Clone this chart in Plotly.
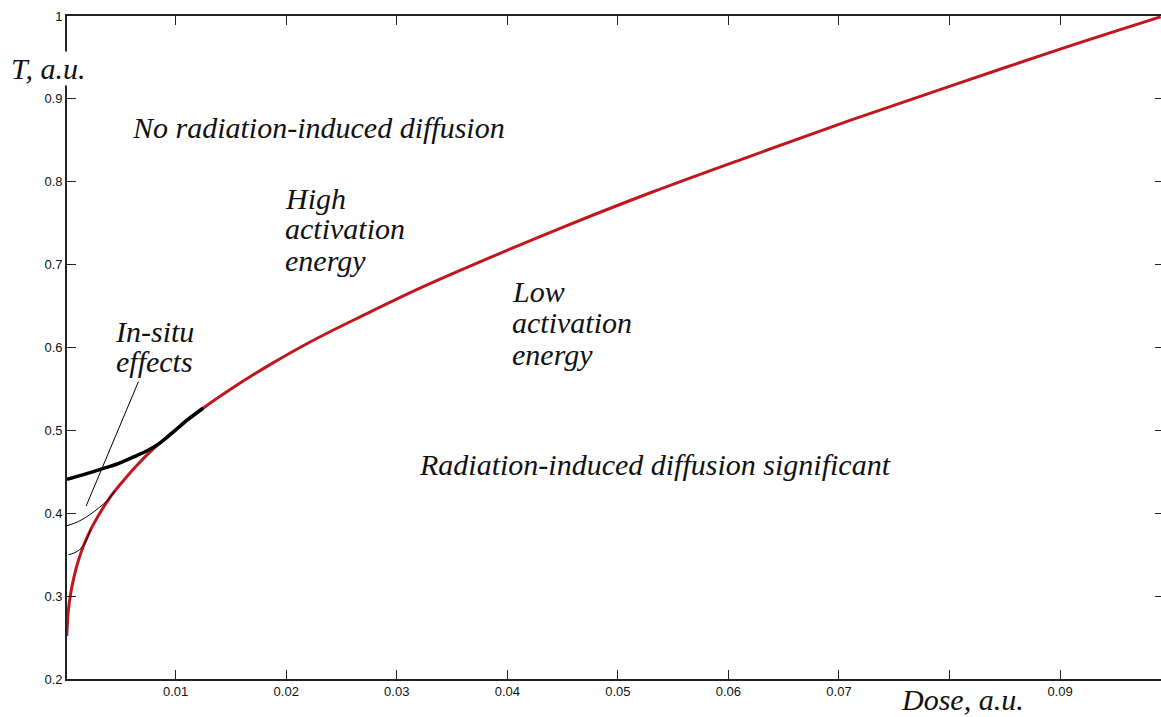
import plotly.graph_objects as go

# Main boundary curve (red)
red_dose = [0.00015, 0.0003, 0.0005, 0.0008, 0.0012, 0.0017, 0.0023, 0.003, 0.004, 0.005,
            0.0065, 0.008, 0.01, 0.0125, 0.015, 0.0185, 0.0225, 0.027, 0.032, 0.038,
            0.045, 0.053, 0.062, 0.071, 0.08, 0.09, 0.0991]
red_T = [0.252, 0.284, 0.303, 0.323, 0.343, 0.362, 0.380, 0.397, 0.418, 0.435,
         0.458, 0.478, 0.501, 0.527, 0.550, 0.579, 0.609, 0.639, 0.671, 0.706,
         0.745, 0.787, 0.831, 0.874, 0.915, 0.960, 0.999]

# In-situ curves (black)
thick_dose = [0.00017, 0.0015, 0.0032, 0.0048, 0.0062, 0.0075, 0.0086, 0.0097, 0.011, 0.0125]
thick_T = [0.441, 0.446, 0.453, 0.460, 0.468, 0.476, 0.485, 0.497, 0.512, 0.527]

thin1_dose = [0.00017, 0.0012, 0.0022, 0.003, 0.0038, 0.0045]
thin1_T = [0.385, 0.390, 0.398, 0.406, 0.415, 0.427]

thin2_dose = [0.0003, 0.0008, 0.0013, 0.0018, 0.0023]
thin2_T = [0.350, 0.352, 0.356, 0.364, 0.380]

pointer_dose = [0.0019, 0.00663]
pointer_T = [0.4087, 0.5587]

x_ticks = [0.01, 0.02, 0.03, 0.04, 0.05, 0.06, 0.07, 0.08, 0.09]
x_labels = ["0.01", "0.02", "0.03", "0.04", "0.05", "0.06", "0.07", "", "0.09"]  # 0.08 label hidden under axis title
y_ticks = [0.2, 0.3, 0.4, 0.5, 0.6, 0.7, 0.8, 0.9, 1.0]
y_labels = ["0.2", "0.3", "0.4", "0.5", "0.6", "0.7", "0.8", "0.9", "1"]

# text labels: (text, dose, T)
labels = [
    ("No radiation-induced diffusion", 0.00587, 0.866),
    ("High", 0.0197, 0.780),
    ("activation", 0.0197, 0.743),
    ("energy", 0.0197, 0.705),
    ("Low", 0.0402, 0.667),
    ("activation", 0.0402, 0.630),
    ("energy", 0.0402, 0.592),
    ("In-situ", 0.00433, 0.619),
    ("effects", 0.00442, 0.583),
    ("Radiation-induced diffusion significant", 0.0318, 0.459),
]

fig = go.Figure()
fig.add_trace(go.Scatter(x=red_dose, y=red_T, mode="lines", line=dict(color="#c0161e", width=3, shape="spline"),
                         showlegend=False, hoverinfo="skip"))
fig.add_trace(go.Scatter(x=thick_dose, y=thick_T, mode="lines", line=dict(color="black", width=3.5, shape="spline"),
                         showlegend=False, hoverinfo="skip"))
fig.add_trace(go.Scatter(x=thin1_dose, y=thin1_T, mode="lines", line=dict(color="black", width=1, shape="spline"),
                         showlegend=False, hoverinfo="skip"))
fig.add_trace(go.Scatter(x=thin2_dose, y=thin2_T, mode="lines", line=dict(color="black", width=1, shape="spline"),
                         showlegend=False, hoverinfo="skip"))
fig.add_trace(go.Scatter(x=pointer_dose, y=pointer_T, mode="lines", line=dict(color="black", width=1),
                         showlegend=False, hoverinfo="skip"))
# invisible helper trace so the right-hand tick axis is drawn
fig.add_trace(go.Scatter(x=red_dose[-1:], y=red_T[-1:], mode="lines", yaxis="y2",
                         line=dict(color="rgba(0,0,0,0)"), showlegend=False, hoverinfo="skip"))

font_it = dict(family="Liberation Serif", size=30, color="#111")
for txt, dx, ty in labels:
    fig.add_annotation(x=dx, y=ty, xref="x", yref="y", text="<i>%s</i>" % txt, showarrow=False,
                       xanchor="left", yanchor="middle", font=font_it)

# axis titles placed in paper coordinates (relative to plot area)
fig.add_annotation(x=-0.052, y=0.921, xref="paper", yref="paper", text="<i>T, a.u.</i>",
                   showarrow=False, xanchor="left", yanchor="middle", font=font_it,
                   bgcolor="white", borderpad=0)
fig.add_annotation(x=0.7596, y=-0.031, xref="paper", yref="paper", text="<i>Dose, a.u.</i>",
                   showarrow=False, xanchor="left", yanchor="middle", font=font_it,
                   bgcolor="white", borderpad=0)

tick_font = dict(family="Liberation Sans", size=13, color="#111")
axis_common = dict(showline=True, linecolor="#222", linewidth=1.6, ticks="inside",
                   ticklen=9, tickwidth=1.3, tickcolor="#222", showgrid=False, zeroline=False,
                   tickfont=tick_font)
fig.update_xaxes(range=[0.00017, 0.0994], tickvals=x_ticks, ticktext=x_labels, mirror="ticks", **axis_common)
fig.update_yaxes(range=[0.2, 1.0], tickvals=y_ticks, ticktext=y_labels, mirror=False, **axis_common)

fig.update_layout(width=1164, height=717, margin=dict(l=67, r=0, t=16, b=38),
                  plot_bgcolor="white", paper_bgcolor="white",
                  yaxis2=dict(overlaying="y", side="right", range=[0.2, 1.0], tickvals=y_ticks,
                              showticklabels=False, ticks="inside", ticklen=9, tickwidth=1.3,
                              tickcolor="#222", showline=False, showgrid=False, zeroline=False))
fig.write_html("out.html", config={"displayModeBar": False},
               post_script="document.body.style.margin='0';document.body.style.overflow='hidden';")
